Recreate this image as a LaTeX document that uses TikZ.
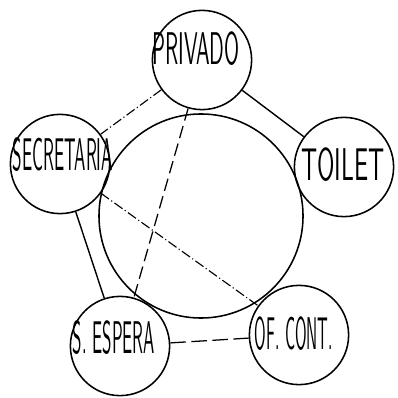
\documentclass[tikz,border=0pt]{standalone}
\usepackage{graphicx}
\usepackage{tikz}
\usetikzlibrary{positioning}

\newcommand{\rotulo}[2]{\resizebox{#1}{0.82cm}{\sffamily #2}}

\begin{document}
\begin{tikzpicture}[
  x=0.025cm, y=-0.025cm, line width=1.1pt,
  sala/.style={draw, circle, minimum size=2.48cm, inner sep=0pt},
  centro/.style={draw, circle, minimum size=5.1cm, inner sep=0pt},
  nombre/.style={inner sep=0pt},
  pleno/.style={line width=1pt},
  rayas/.style={line width=0.9pt, dash pattern=on 9pt off 4pt},
  raya punto/.style={line width=0.8pt, dash pattern=on 7pt off 2pt on 0.8pt off 2pt}
]
  \useasboundingbox (0,0) rectangle (398,398);
  \node[centro] (patio) at (201,216) {};
  \node[sala] (priv) at (202,60) {};
  \node[sala] (secr) at (60,164) {};
  \node[sala] (toil) at (344,167) {};
  \node[sala] (esp) at (120,346) {};
  \node[sala] (ofc) at (299,335) {};
  \node[nombre] (tpriv) at (196,49) {\rotulo{2.18cm}{PRIVADO}};
  \node[nombre] (tsecr) at (63,155) {\rotulo{2.5cm}{SECRETARIA}};
  \node[nombre] (ttoil) at (343,165) {\rotulo{2.08cm}{TOILET}};
  \node[nombre] (tesp) at (114,338) {\rotulo{2.05cm}{S. ESPERA}};
  \node[nombre] (tofc) at (294,334) {\rotulo{1.95cm}{OF. CONT.}};
  \draw[pleno] (priv) -- (toil);
  \draw[pleno] (secr) -- (esp);
  \draw[raya punto] (priv) -- (secr);
  \draw[raya punto] (secr) -- (ofc);
  \draw[rayas] (priv) -- (esp);
  \draw[rayas, dash pattern=on 11pt off 4pt] (esp) -- (ofc);
\end{tikzpicture}
\end{document}
